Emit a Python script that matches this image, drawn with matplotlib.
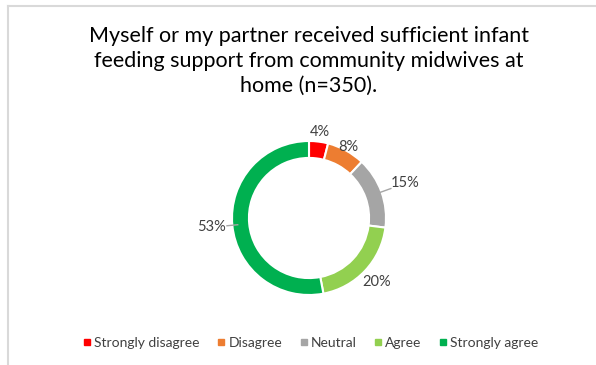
import matplotlib
matplotlib.use("Agg")
import numpy as np
import matplotlib.pyplot as plt
from matplotlib.lines import Line2D

plt.rcParams['font.family'] = ['Lato', 'DejaVu Sans']

categories = ["Strongly disagree", "Disagree", "Neutral", "Agree", "Strongly agree"]
values = [4, 8, 15, 20, 53]
colors = ["#FF0000", "#ED7D31", "#A5A5A5", "#92D050", "#00B050"]
title = "Myself or my partner received sufficient infant\nfeeding support from community midwives at\nhome (n=350)."

# label distance (in ring radii) and whether a leader line is drawn
label_r = [1.13, 1.05, 1.33, 1.21, 1.27]
leader = [False, False, True, False, True]

W, H = 596, 365
fig = plt.figure(figsize=(W / 100, H / 100), dpi=100)

# light frame (top and left edges visible)
fig.add_artist(Line2D([8 / W, 8 / W], [0, 1 - 6 / H], color="#d9d9d9", lw=1.5))
fig.add_artist(Line2D([8 / W, 1], [1 - 6 / H, 1 - 6 / H], color="#d9d9d9", lw=1.5))

fig.text(309 / W, 1 - 61 / H, title, ha="center", va="center", fontsize=15.5,
         color="#000000", linespacing=1.32)

cx, cy, R = 309, H - 218, 77
lim = 1.5
ax = fig.add_axes([(cx - R * lim) / W, (cy - R * lim) / H, 2 * R * lim / W, 2 * R * lim / H])
wedges, _ = ax.pie(values, colors=colors, startangle=90, counterclock=False,
                   radius=1.0, wedgeprops=dict(width=0.22, edgecolor="white", linewidth=1.5))
ax.set_xlim(-lim, lim)
ax.set_ylim(-lim, lim)
ax.set_aspect("equal")
ax.axis("off")

total = sum(values)
for w, v, r, ld in zip(wedges, values, label_r, leader):
    ang = np.deg2rad((w.theta1 + w.theta2) / 2)
    x, y = r * np.cos(ang), r * np.sin(ang)
    ax.text(x, y, f"{round(100 * v / total)}%", ha="center", va="center",
            fontsize=10.5, color="#404040")
    if ld:
        x0, y0 = 0.93 * np.cos(ang), 0.93 * np.sin(ang)
        x1, y1 = (r - 0.2) * np.cos(ang), (r - 0.2) * np.sin(ang)
        ax.plot([x0, x1], [y0, y1], color="#A6A6A6", lw=1)

handles = [Line2D([0], [0], marker="s", linestyle="", markersize=5,
                  markerfacecolor=c, markeredgecolor=c) for c in colors]
fig.legend(handles, categories, loc="center", bbox_to_anchor=(311 / W, 22 / H),
           ncol=5, frameon=False, fontsize=10, handlelength=0.5, handletextpad=0.25,
           columnspacing=1.3, labelcolor="#404040")

fig.savefig("out.png", dpi=100, facecolor="white")
